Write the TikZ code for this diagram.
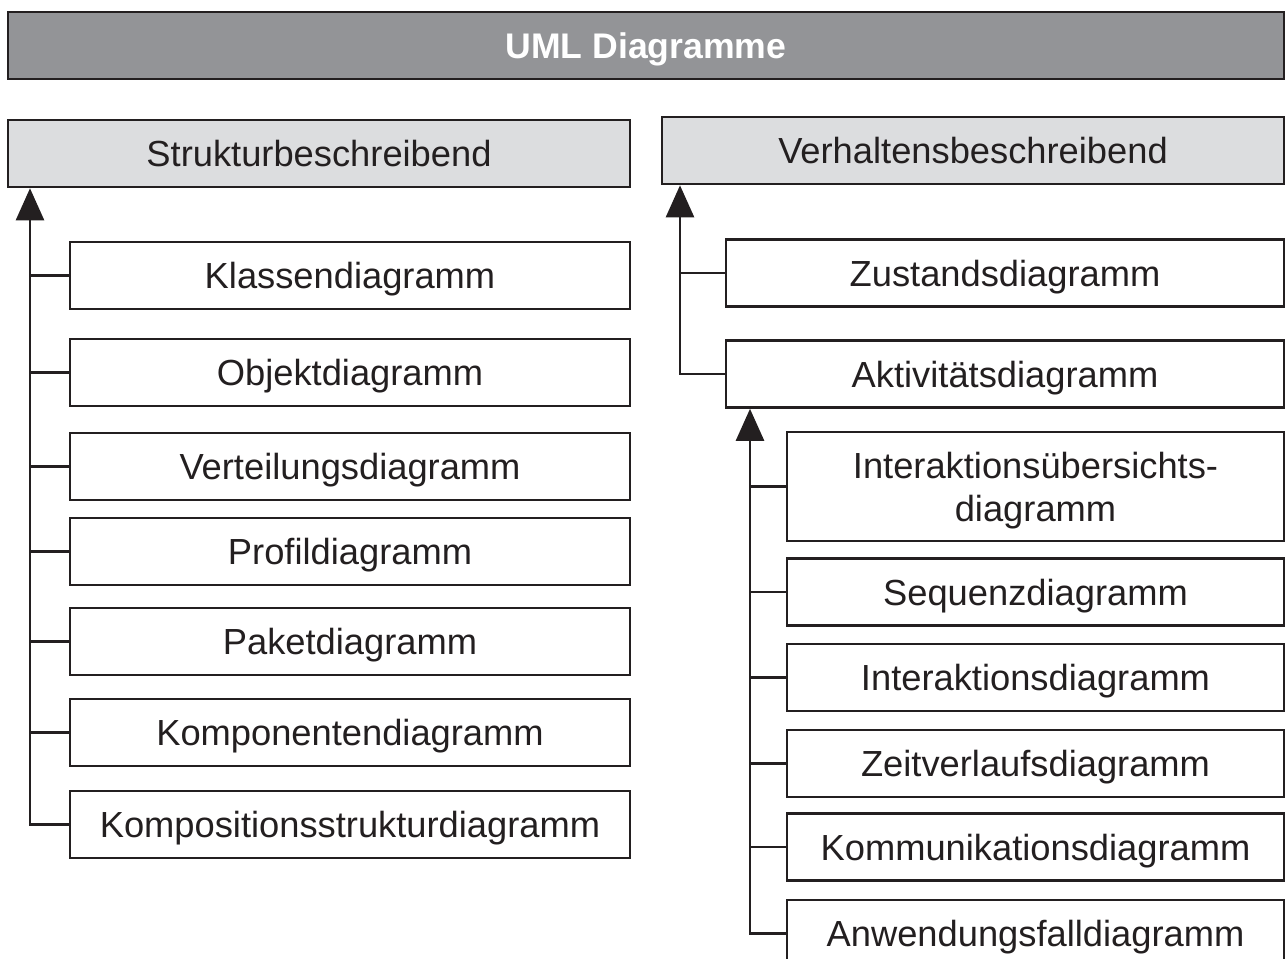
\documentclass[tikz,border=0pt]{standalone}
\usepackage{fontspec}
\setmainfont{Liberation Sans}
\usetikzlibrary{arrows.meta}
\definecolor{ink}{HTML}{231F20}
\definecolor{titlefill}{HTML}{939497}
\definecolor{headfill}{HTML}{DCDDDF}
\begin{document}
\begin{tikzpicture}[x=1pt,y=-1pt,
  box/.style={draw=ink,line width=2.6pt,fill=white,text=ink,inner sep=0pt,
    minimum height=67pt,text depth=0pt,font=\fontsize{36.3}{43}\selectfont,align=center},
  titlebox/.style={box,fill=titlefill,text=white,minimum width=1276pt,
    font=\fontsize{35.6}{43}\selectfont\bfseries},
  headbox/.style={box,fill=headfill,minimum width=622pt},
  leftbox/.style={box,minimum width=560pt},
  midbox/.style={box,minimum width=558pt},
  subbox/.style={box,minimum width=497pt},
  link/.style={draw=ink,line width=2.6pt},
  arr/.style={link,-{Triangle[width=28pt,length=32pt]}}]
\useasboundingbox (0,0) rectangle (1286,959);
\clip (0,0) rectangle (1286,959);

% title and the two groups
\node[titlebox] (uml) at (646,45.5) {UML Diagramme};
\node[headbox] (struct) at (319,153.5) {Strukturbeschreibend};
\node[headbox] (behav) at (973,150.5) {Verhaltensbeschreibend};

% structure diagrams
\node[leftbox] (kl) at (350,275.5) {Klassendiagramm};
\node[leftbox] (ob) at (350,372.5) {Objektdiagramm};
\node[leftbox] (ve) at (350,466.5) {Verteilungsdiagramm};
\node[leftbox] (pr) at (350,551.5) {Profildiagramm};
\node[leftbox] (pa) at (350,641.5) {Paketdiagramm};
\node[leftbox] (ko) at (350,732.5) {Komponentendiagramm};
\node[leftbox] (ks) at (350,824.5) {Kompositionsstrukturdiagramm};

% behaviour diagrams
\node[midbox] (zu) at (1005,273) {Zustandsdiagramm};
\node[midbox] (ak) at (1005,374) {Aktivitätsdiagramm};

% interaction diagrams
\node[subbox,minimum height=109pt] (iu) at (1035.5,486.5) {Interaktionsübersichts-\\diagramm};
\node[subbox] (se) at (1035.5,592) {Sequenzdiagramm};
\node[subbox] (ia) at (1035.5,677.5) {Interaktionsdiagramm};
\node[subbox] (zv) at (1035.5,763.5) {Zeitverlaufsdiagramm};
\node[subbox] (km) at (1035.5,847) {Kommunikationsdiagramm};
\node[subbox] (an) at (1035.5,933.5) {Anwendungsfalldiagramm};

% trunk lines
\coordinate (lx) at (30,0);
\coordinate (rx) at (680,0);
\coordinate (ax) at (750,0);

\draw[arr] (ks.west) -| (lx |- struct.south);
\foreach \n in {kl,ob,ve,pr,pa,ko}
  \draw[link] (\n.west) -- (lx |- \n.west);

\draw[arr] (ak.west) -| (rx |- behav.south);
\draw[link] (zu.west) -- (rx |- zu.west);

\draw[arr] (an.west) -| (ax |- ak.south);
\foreach \n in {iu,se,ia,zv,km}
  \draw[link] (\n.west) -- (ax |- \n.west);
\end{tikzpicture}
\end{document}
